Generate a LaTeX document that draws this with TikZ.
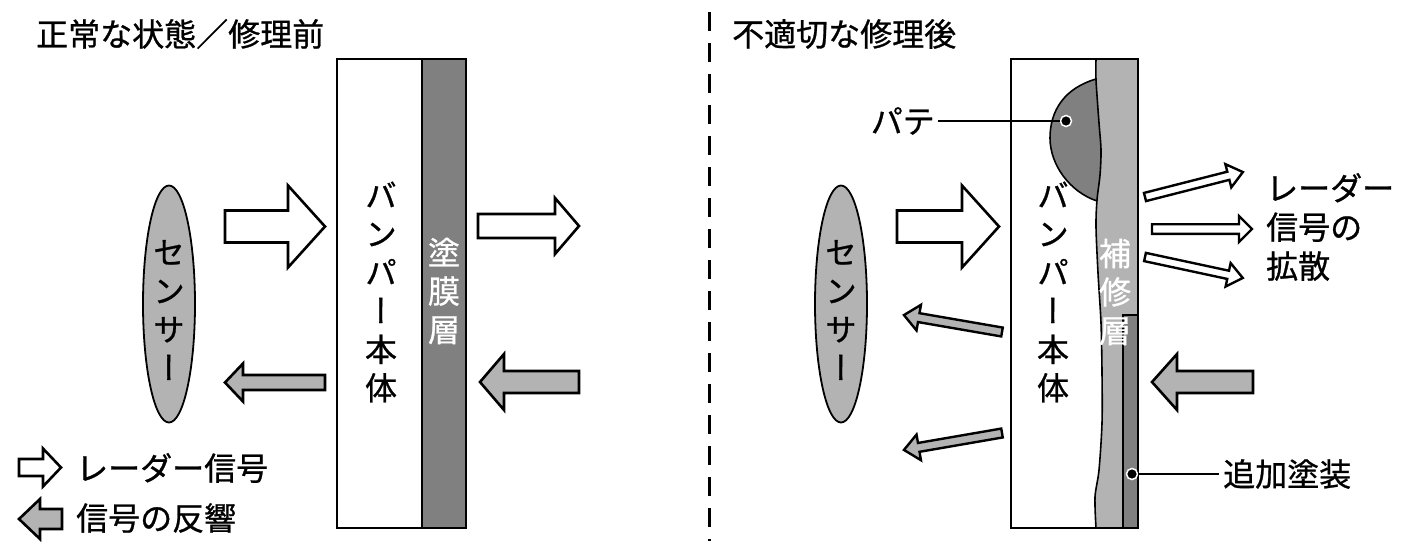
\documentclass[tikz,border=0pt]{standalone}
\usepackage{fontspec}
\setmainfont[FakeBold=0.8]{Noto Sans CJK JP}
\newfontfamily\vjp[RawFeature=+vert,FakeBold=0.8]{Noto Sans CJK JP}
\usetikzlibrary{shapes.geometric}
\definecolor{lgray}{RGB}{179,179,179}
\definecolor{dgray}{RGB}{128,128,128}
\tikzset{
  sigarrow/.style={draw=black, fill=white, line width=2.6pt},
  echoarrow/.style={draw=black, fill=lgray, line width=2.6pt},
  thinsig/.style={draw=black, fill=white, line width=2.4pt},
  thinecho/.style={draw=black, fill=lgray, line width=2.4pt},
  sensor/.style={ellipse, draw=black, fill=lgray, line width=1.8pt, minimum width=52pt, minimum height=237pt, inner sep=0pt},
  lbl/.style={font=\fontsize{32}{39}\selectfont, inner sep=0pt},
  vtext/.style={font=\vjp\fontsize{32}{38.5}\selectfont, align=center, inner sep=0pt},
  leader/.style={line width=1.8pt},
  dotmark/.style={circle, fill=black, draw=white, line width=1.5pt, minimum size=11pt, inner sep=0pt},
  panel/.style={line width=2.6pt},
  layerline/.style={line width=1.6pt},
}
% #1 style, #2 tail "x,y", #3 angle, #4 length, #5 shaft half width, #6 head half width, #7 head length
\newcommand{\blockarrow}[7]{%
  \begin{scope}[shift={(#2)}, rotate=#3]
    \draw[#1] (0,-#5) -- ({#4-#7},-#5) -- ({#4-#7},-#6) -- (#4,0) -- ({#4-#7},#6) -- ({#4-#7},#5) -- (0,#5) -- cycle;
  \end{scope}}
\begin{document}
\begin{tikzpicture}[x=1pt,y=-1pt]
\useasboundingbox (0,0) rectangle (1418,555);
\fill[white] (0,0) rectangle (1418,555);

% titles
\node[lbl, anchor=west] (t1) at (36,34) {正常な状態／修理前};
\node[lbl, anchor=west] (t2) at (732,34) {不適切な修理後};

% divider
\draw[line width=3pt, dash pattern=on 19pt off 12pt] (709,12) -- (709,541);

% ---------- left panel ----------
\node[sensor] (sen1) at (169,304) {};
\node[vtext] (sen1t) at (169,310) {セ\\ン\\サ\\ー};

\fill[white] (337,59) rectangle (466,528);
\fill[dgray] (422,59) rectangle (466,528);
\draw[layerline] (422,59) -- (422,528);
\draw[panel] (337,59) rectangle (466,528);
\node[vtext] (bump1) at (381,292) {バ\\ン\\パ\\ー\\本\\体};
\node[vtext, text=white] (coat1) at (444,291) {塗\\膜\\層};

\blockarrow{sigarrow}{225,226.5}{0}{100}{16}{41}{37}
\blockarrow{sigarrow}{478,226}{0}{101}{12}{28}{24}
\blockarrow{echoarrow}{325,382.5}{180}{100}{7.5}{19}{18}
\blockarrow{echoarrow}{579,382}{180}{99}{11}{28}{24}

% legend
\blockarrow{sigarrow}{19,467.5}{0}{42}{8.5}{19}{18}
\blockarrow{echoarrow}{62,519}{180}{43}{10}{20}{21}
\node[lbl, anchor=west] (leg1) at (76,468) {レーダー信号};
\node[lbl, anchor=west] (leg2) at (76,518) {信号の反響};

% ---------- right panel ----------
\node[sensor] (sen2) at (841,304) {};
\node[vtext] (sen2t) at (841,310) {セ\\ン\\サ\\ー};

\fill[white] (1011,59) rectangle (1138,528);
% putty
\fill[dgray] (1096,79) .. controls (1065,88) and (1050,110) .. (1050,138) .. controls (1050,165) and (1070,192) .. (1097,201) -- (1112,201) -- (1112,79) -- cycle;
\draw[layerline] (1096,79) .. controls (1065,88) and (1050,110) .. (1050,138) .. controls (1050,165) and (1070,192) .. (1097,201);
% repair layer
\fill[lgray] plot[smooth] coordinates {(1096,59) (1096,80) (1099,123) (1101,150) (1100,175) (1097,200) (1096,227) (1098,273) (1101,323) (1102,373) (1102,423) (1099,470) (1095,497) (1096,528)} -- (1138,528) -- (1138,59) -- cycle;
\draw[layerline] plot[smooth] coordinates {(1096,59) (1096,80) (1099,123) (1101,150) (1100,175) (1097,200) (1096,227) (1098,273) (1101,323) (1102,373) (1102,423) (1099,470) (1095,497) (1096,528)};
% additional paint
\fill[dgray] (1123,315) rectangle (1138,528);
\draw[layerline] (1138,315) -- (1123,315) -- (1123,528);
\draw[panel] (1011,59) rectangle (1138,528);
\node[vtext] (bump2) at (1053,292) {バ\\ン\\パ\\ー\\本\\体};
\node[vtext, text=white] (rep2) at (1115,292) {補\\修\\層};

% labels with leaders
\node[dotmark] (d1) at (1066,121) {};
\node[lbl, anchor=east, inner xsep=3pt] (pate) at (938,121) {パテ};
\draw[leader] (pate) -- (d1);
\node[dotmark] (d2) at (1132,474) {};
\node[lbl, anchor=west, inner xsep=4pt] (extra) at (1219,474) {追加塗装};
\draw[leader] (extra) -- (d2);
\node[lbl, anchor=west, align=left] (diff) at (1266,227) {レーダー\\信号の\\拡散};

% arrows right
\blockarrow{sigarrow}{897,226.5}{0}{102}{16}{41}{37}
\blockarrow{echoarrow}{1253,382}{180}{101}{11}{28}{25}
\blockarrow{thinsig}{1145,197}{14.3}{101}{4.2}{12}{15}
\blockarrow{thinsig}{1152,229}{0}{100}{4.8}{13}{13}
\blockarrow{thinsig}{1145,257}{-12.1}{100}{4.2}{12}{15}
\blockarrow{thinecho}{1002,332}{170.2}{99.5}{4.5}{13}{15}
\blockarrow{thinecho}{1002,433}{189.8}{99.5}{4.5}{13}{15}
\end{tikzpicture}
\end{document}
